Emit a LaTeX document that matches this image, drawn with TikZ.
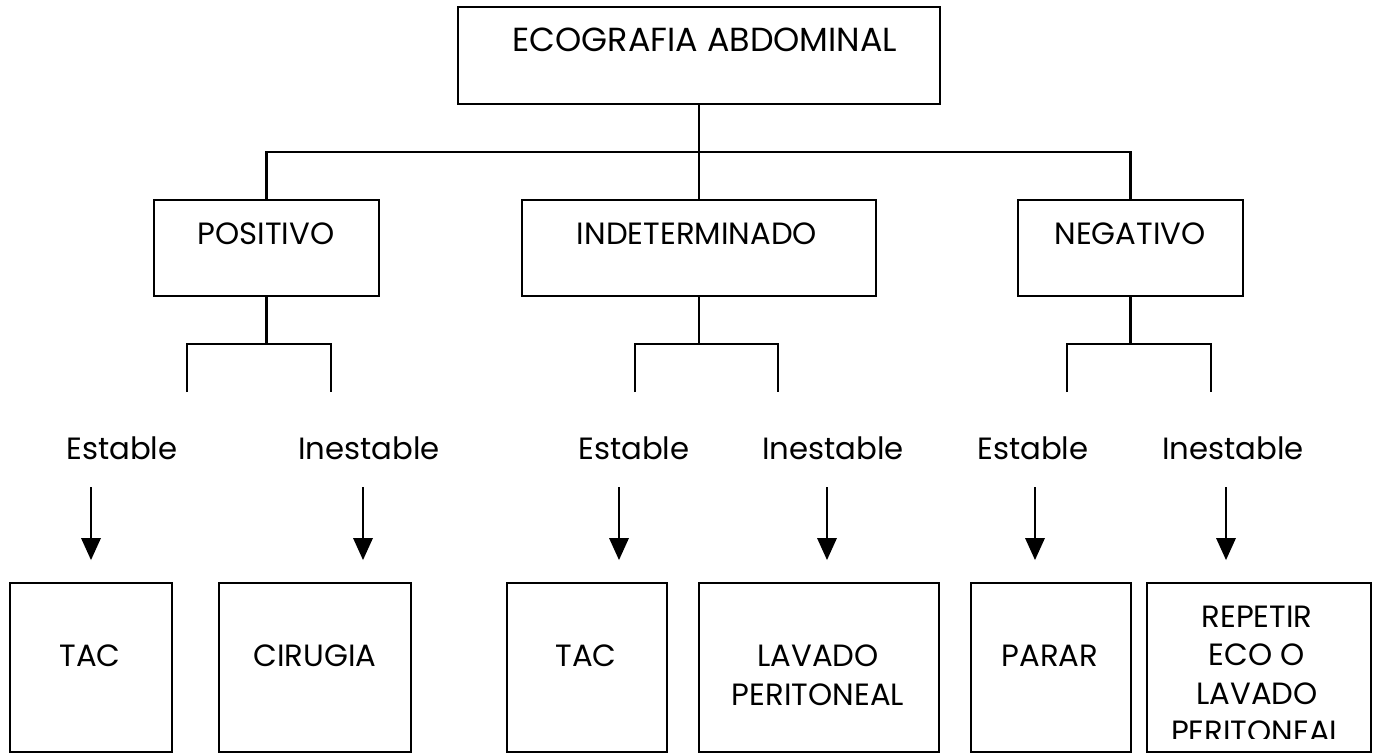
\documentclass[tikz,border=0pt]{standalone}
\usepackage{fontspec}
\setmainfont{Poppins}
\begin{document}
\begin{tikzpicture}[x=0.02cm,y=-0.02cm,line width=1.2pt]
\tikzset{caja/.style={draw,inner sep=0pt,minimum height=3.38cm},
  texto/.style={inner sep=0pt,anchor=base,align=center,font=\fontsize{17.5}{21.9}\selectfont}}
\useasboundingbox (0,0) rectangle (1381,753);
\node[caja,minimum width=9.64cm,minimum height=1.94cm] (eco) at (699,55.5) {};
\node[texto,font=\fontsize{19}{23}\selectfont] (eco-t) at (705,52) {ECOGRAFIA ABDOMINAL};
\node[caja,minimum width=4.5cm,minimum height=1.92cm] (pos) at (266.5,248) {};
\node[caja,minimum width=7.08cm,minimum height=1.92cm] (ind) at (699,248) {};
\node[caja,minimum width=4.5cm,minimum height=1.92cm] (neg) at (1130.5,248) {};
\node[texto] (pos-t) at (266,244) {POSITIVO};
\node[texto] (ind-t) at (697,244) {INDETERMINADO};
\node[texto] (neg-t) at (1130,244) {NEGATIVO};
\coordinate (j) at (699,152);
\draw (eco.south) -- (ind.north);
\draw (pos.north) |- (j) -| (neg.north);
\foreach \n/\l/\r in {pos/187/331,ind/635/778,neg/1067/1211} {
  \coordinate (\n-l) at (\l,392);
  \coordinate (\n-r) at (\r,392);
  \draw (\n.south) -- ++(0,47) coordinate (\n-b);
  \draw (\n-l) |- (\n-b) -| (\n-r);
}
\foreach \n/\x/\t in {e1/122/Estable,e2/369/Inestable,e3/634/Estable,e4/833/Inestable,e5/1033/Estable,e6/1233/Inestable}
  \node[texto] (\n) at (\x,459) {\t};
\foreach \n/\x/\w in {tac1/91/3.24,cir/315/3.84,tac2/587/3.2,lav/819/4.8,par/1051/3.2,rep/1259/4.48}
  \node[caja,minimum width=\w cm] (\n) at (\x,667.5) {};
\foreach \n/\x in {tac1/91,cir/363,tac2/619,lav/827,par/1035,rep/1226} {
  \coordinate (\n-a) at (\x,487);
  \coordinate (\n-p) at (\x,560);
  \draw (\n-a) -- ++(0,63);
  \fill (\n-p) -- ++(-10,-22) -- ++(20,0) -- cycle;
}
\node[texto] (tac1-t) at (90,666) {TAC};
\node[texto] (cir-t) at (315,666) {CIRUGIA};
\node[texto] (tac2-t) at (586,666) {TAC};
\node[texto] (lav-t) at (818,705) {LAVADO\\PERITONEAL};
\node[texto] (par-t) at (1050,666) {PARAR};
\begin{scope}
\clip (rep.north west) rectangle (1371,738);
\node[texto] (rep-t) at (1257,742.5) {REPETIR\\ECO O\\LAVADO\\PERITONEAL};
\end{scope}
\end{tikzpicture}
\end{document}
